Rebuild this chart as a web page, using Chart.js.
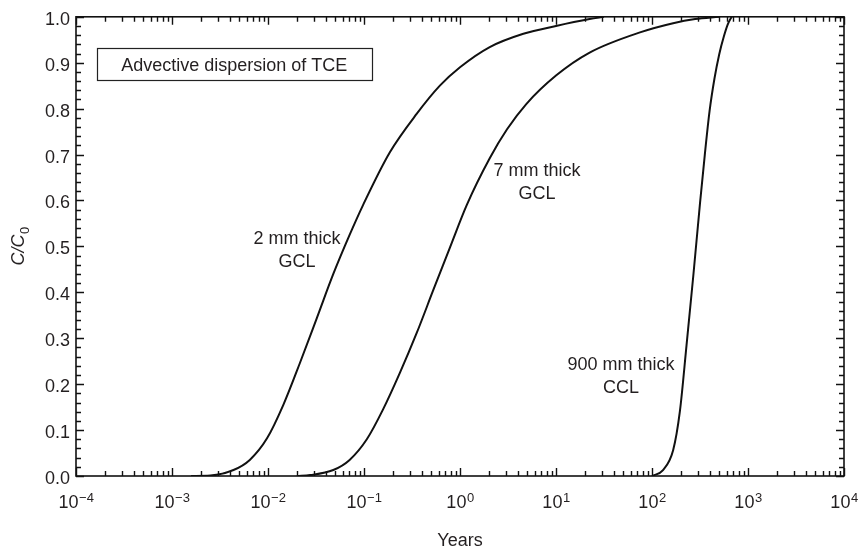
<!DOCTYPE html>
<html><head><meta charset="utf-8">
<script src="https://cdn.jsdelivr.net/npm/chart.js@4.4.0/dist/chart.umd.min.js"></script>
<style>html,body{margin:0;padding:0;background:#fff}#wrap{width:860px;height:550px}</style>
</head><body><div id="wrap"><canvas id="c" width="860" height="550"></canvas></div>
<script>
// ---- data (years, C/C0) ----
const years2mm = [0.00158, 0.00251, 0.00437, 0.00646, 0.00977, 0.01445, 0.0214, 0.0324, 0.0479, 0.0708, 0.0977, 0.186, 0.355, 0.617, 1.0, 2.04, 4.57, 10, 22.4, 31.6];
const conc2mm  = [0, 0.001, 0.013, 0.035, 0.082, 0.155, 0.245, 0.345, 0.440, 0.525, 0.590, 0.705, 0.789, 0.850, 0.890, 0.934, 0.963, 0.980, 0.995, 1.0];
const years7mm = [0.02, 0.0275, 0.0479, 0.0708, 0.107, 0.158, 0.237, 0.355, 0.525, 0.787, 1.175, 2.04, 3.09, 4.9, 10, 22.4, 75, 166, 282, 501];
const conc7mm  = [0, 0.002, 0.013, 0.035, 0.080, 0.145, 0.225, 0.312, 0.404, 0.498, 0.590, 0.692, 0.755, 0.810, 0.872, 0.922, 0.966, 0.986, 0.995, 1.0];
const years900mm = [100, 130.3, 166, 195, 229, 269, 316, 355, 398, 447, 501, 562, 617, 676];
const conc900mm  = [0, 0.013, 0.056, 0.140, 0.285, 0.435, 0.593, 0.700, 0.795, 0.865, 0.918, 0.958, 0.984, 1.0];
const seriesNames = ['2 mm thick GCL', '7 mm thick GCL', '900 mm thick CCL'];
const xTickValues = [1e-4, 1e-3, 1e-2, 1e-1, 1e0, 1e1, 1e2, 1e3, 1e4];
const xTickExponents = ['\u22124', '\u22123', '\u22122', '\u22121', '0', '1', '2', '3', '4'];
const yTickLabels = ['0.0','0.1','0.2','0.3','0.4','0.5','0.6','0.7','0.8','0.9','1.0'];
const annoLines = [['2 mm thick', 'GCL'], ['7 mm thick', 'GCL'], ['900 mm thick', 'CCL']];
const boxText = 'Advective dispersion of TCE';
const xTitle = 'Years';

// ---- layout (positions in data space) ----
const annoX = [0.02, 6.34, 47.5];
const annoY = [[0.517, 0.466], [0.665, 0.615], [0.241, 0.191]];
const boxPos = {x0: 1.644e-4, x1: 0.1202, y0: 0.931, y1: 0.861};

const FONT = '"Liberation Sans", Arial, Helvetica, sans-serif';
const TXT = '#231f20';
const LINE = '#111111';

function pts(xs, ys){ return xs.map((v,i)=>({x:v, y:ys[i]})); }

const decorations = {
  id: 'decorations',
  afterDraw(chart){
    const {ctx, chartArea:a, scales:{x, y}} = chart;
    ctx.save();
    // frame
    ctx.strokeStyle = LINE; ctx.lineWidth = 1.6;
    ctx.strokeRect(a.left, a.top, a.right - a.left, a.bottom - a.top);
    // x ticks (bottom + top), inward
    ctx.lineWidth = 1.4;
    ctx.beginPath();
    for (let e = -4; e <= 4; e++) {
      for (let m = 1; m <= 9; m++) {
        if (e === 4 && m > 1) break;
        const v = m * Math.pow(10, e);
        const px = Math.round(x.getPixelForValue(v)) + 0.5;
        const len = m === 1 ? 8 : 5;
        ctx.moveTo(px, a.bottom); ctx.lineTo(px, a.bottom - len);
        ctx.moveTo(px, a.top); ctx.lineTo(px, a.top + len);
      }
    }
    // y ticks (left + right), inward
    for (let k = 0; k <= 50; k++) {
      const v = k * 0.02;
      const py = Math.round(y.getPixelForValue(v)) + 0.5;
      const len = (k % 5 === 0) ? 8 : 5;
      ctx.moveTo(a.left, py); ctx.lineTo(a.left + len, py);
      ctx.moveTo(a.right, py); ctx.lineTo(a.right - len, py);
    }
    ctx.stroke();

    // x tick labels with superscripts
    ctx.fillStyle = TXT;
    ctx.textBaseline = 'alphabetic';
    ctx.textAlign = 'left';
    xTickValues.forEach((v, i) => {
      const px = x.getPixelForValue(v);
      ctx.font = '18px ' + FONT;
      const wb = ctx.measureText('10').width;
      ctx.font = '13px ' + FONT;
      const we = ctx.measureText(xTickExponents[i]).width;
      const x0 = px - (wb + we) / 2;
      ctx.font = '18px ' + FONT;
      ctx.fillText('10', x0, a.bottom + 32);
      ctx.font = '13px ' + FONT;
      ctx.fillText(xTickExponents[i], x0 + wb + 0.5, a.bottom + 26);
    });

    // y title C/C0
    ctx.save();
    ctx.translate(24, (a.top + a.bottom) / 2);
    ctx.rotate(-Math.PI / 2);
    ctx.font = 'italic 18px ' + FONT;
    const w1 = ctx.measureText('C/C').width;
    ctx.font = '13px ' + FONT;
    const w2 = ctx.measureText('0').width;
    const sx = -(w1 + w2) / 2;
    ctx.font = 'italic 18px ' + FONT;
    ctx.fillText('C/C', sx, 0);
    ctx.font = '13px ' + FONT;
    ctx.fillText('0', sx + w1 + 0.5, 5);
    ctx.restore();

    // text box
    const bx0 = x.getPixelForValue(boxPos.x0), bx1 = x.getPixelForValue(boxPos.x1);
    const by0 = y.getPixelForValue(boxPos.y0), by1 = y.getPixelForValue(boxPos.y1);
    ctx.fillStyle = '#fff';
    ctx.fillRect(bx0, by0, bx1 - bx0, by1 - by0);
    ctx.lineWidth = 1.2; ctx.strokeStyle = '#222';
    ctx.strokeRect(Math.round(bx0) + 0.5, Math.round(by0) + 0.5, Math.round(bx1 - bx0), Math.round(by1 - by0));
    ctx.fillStyle = TXT;
    ctx.font = '18px ' + FONT;
    ctx.textAlign = 'center';
    ctx.textBaseline = 'middle';
    ctx.fillText(boxText, (bx0 + bx1) / 2, (by0 + by1) / 2 + 1);

    // curve annotations
    annoLines.forEach((lines, i) => {
      const px = x.getPixelForValue(annoX[i]);
      lines.forEach((t, j) => {
        ctx.fillText(t, px, y.getPixelForValue(annoY[i][j]));
      });
    });
    ctx.restore();
  }
};

const lineStyle = {borderColor: LINE, borderWidth: 2, pointRadius: 0, fill: false, cubicInterpolationMode: 'monotone', tension: 0.4};

new Chart(document.getElementById('c'), {
  type: 'line',
  data: {
    datasets: [
      Object.assign({label: seriesNames[0], data: pts(years2mm, conc2mm)}, lineStyle),
      Object.assign({label: seriesNames[1], data: pts(years7mm, conc7mm)}, lineStyle),
      Object.assign({label: seriesNames[2], data: pts(years900mm, conc900mm)}, lineStyle)
    ]
  },
  options: {
    responsive: false,
    animation: false,
    devicePixelRatio: 1,
    layout: {padding: {top: 16, right: 16, left: 0, bottom: 0}},
    plugins: {legend: {display: false}, tooltip: {enabled: false}},
    scales: {
      x: {
        type: 'logarithmic', min: 1e-4, max: 1e4,
        grid: {display: false, drawTicks: false},
        border: {display: false},
        ticks: {display: false},
        afterFit: s => { s.height = 74; },
        title: {display: true, text: xTitle, color: TXT, font: {size: 18, family: FONT, lineHeight: 1}, padding: {top: 0, bottom: 0}}
      },
      y: {
        min: 0, max: 1,
        grid: {display: false, drawTicks: false},
        border: {display: false},
        afterFit: s => { s.width = 76; },
        afterBuildTicks: s => { s.ticks = yTickLabels.map(t => ({value: parseFloat(t)})); },
        ticks: {
          color: TXT, padding: 6, labelOffset: 3,
          font: {size: 18, family: FONT},
          callback: (v) => yTickLabels[Math.round(v * 10)]
        }
      }
    }
  },
  plugins: [decorations]
});
</script>
</body></html>
